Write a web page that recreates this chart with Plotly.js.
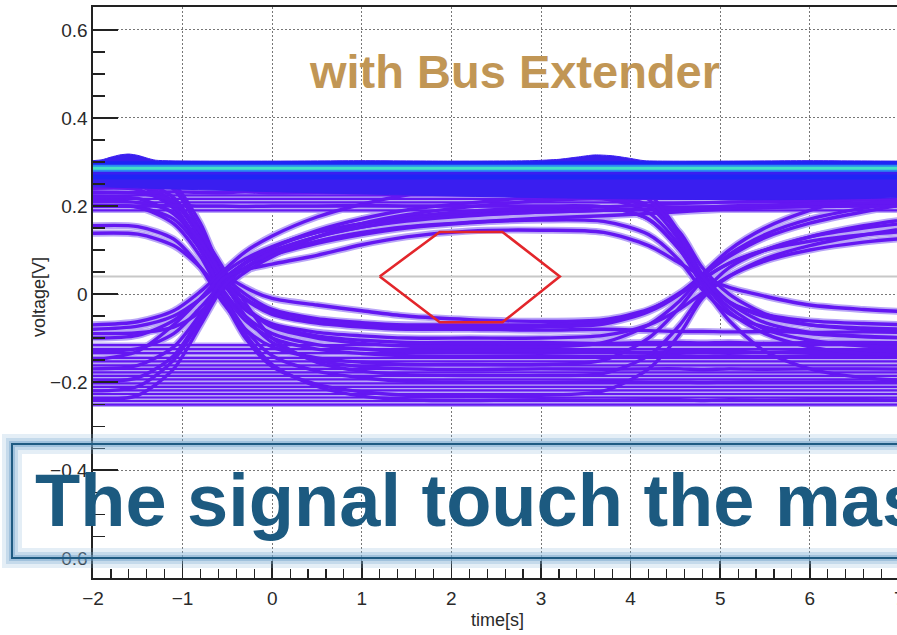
<!DOCTYPE html>
<html>
<head>
<meta charset="utf-8">
<script src="https://cdn.plot.ly/plotly-3.0.1.min.js"></script>
<style>
html, body { margin: 0; padding: 0; overflow: hidden; background: #fff; }
#chart { width: 1000px; height: 635px; }
</style>
</head>
<body>
<div id="chart"></div>
<script>
// ---------------- data ----------------
const tStart = -2, tEnd = 8;
const T = [-2, -1.5, -1.1, -0.8, -0.55, -0.3, 0, 0.5, 1, 1.5, 2.2, 3, 3.7, 4.2, 4.55, 4.8, 5.1, 5.5, 6, 6.6, 7.3, 8];

// traces falling at the first crossing
const fallA0 = [0.29, 0.288, 0.25, 0.16, 0.05, 0.015, -0.01, -0.025, -0.038, -0.05, -0.058, -0.062, -0.058, -0.035, 0.0, 0.035, 0.07, 0.1, 0.13, 0.155, 0.175, 0.19];
const fallA1 = [0.28, 0.277, 0.238, 0.147, 0.045, 0.0, -0.035, -0.056, -0.065, -0.07, -0.07, -0.07, -0.063, -0.037, 0.003, 0.042, 0.085, 0.128, 0.161, 0.187, 0.21, 0.224];
const fallA2 = [0.26, 0.257, 0.219, 0.131, 0.036, -0.012, -0.046, -0.066, -0.075, -0.08, -0.08, -0.082, -0.08, -0.083, -0.085, -0.085, -0.086, -0.085, -0.087, -0.086, -0.088, -0.087];
const fallA3 = [0.22, 0.217, 0.182, 0.11, 0.025, -0.036, -0.068, -0.087, -0.095, -0.1, -0.1, -0.1, -0.094, -0.07, -0.034, 0.002, 0.041, 0.08, 0.11, 0.134, 0.155, 0.167];
const fallA4 = [0.2, 0.198, 0.17, 0.1, 0.01, -0.05, -0.09, -0.115, -0.125, -0.13, -0.13, -0.128, -0.13, -0.132, -0.13, -0.131, -0.13, -0.132, -0.13, -0.13, -0.131, -0.13];
const fallA5 = [0.155, 0.153, 0.125, 0.06, -0.02, -0.08, -0.12, -0.145, -0.155, -0.16, -0.16, -0.16, -0.15, -0.1, -0.03, 0.03, 0.07, 0.1, 0.12, 0.135, 0.145, 0.15];
const fallA6 = [0.24, 0.237, 0.195, 0.1, 0.0, -0.08, -0.14, -0.175, -0.19, -0.198, -0.2, -0.2, -0.199, -0.2, -0.2, -0.201, -0.2, -0.2, -0.2, -0.2, -0.201, -0.2];
const fallA7 = [0.2, 0.197, 0.16, 0.085, -0.01, -0.1, -0.165, -0.205, -0.222, -0.23, -0.232, -0.23, -0.22, -0.17, -0.09, -0.01, 0.04, 0.075, 0.1, 0.118, 0.13, 0.137];
const fallA8 = [0.29, 0.287, 0.24, 0.14, 0.035, -0.05, -0.11, -0.15, -0.165, -0.17, -0.172, -0.17, -0.171, -0.17, -0.17, -0.172, -0.17, -0.171, -0.17, -0.17, -0.171, -0.17];
const fallA9 = [0.25, 0.247, 0.2, 0.1, 0.0, -0.09, -0.16, -0.21, -0.232, -0.24, -0.242, -0.24, -0.241, -0.24, -0.24, -0.242, -0.24, -0.241, -0.24, -0.24, -0.241, -0.24];
const fallA10 = [0.25, 0.248, 0.21, 0.125, 0.035, -0.01, -0.04, -0.06, -0.07, -0.075, -0.075, -0.075, -0.068, -0.04, 0.0, 0.045, 0.1, 0.15, 0.19, 0.22, 0.245, 0.26];
const fallA11 = [0.138, 0.136, 0.11, 0.06, 0.0, -0.06, -0.1, -0.125, -0.135, -0.14, -0.141, -0.14, -0.142, -0.14, -0.14, -0.141, -0.14, -0.142, -0.14, -0.14, -0.141, -0.14];
const fallA12 = [0.27, 0.26, 0.2, 0.11, 0.03, -0.03, -0.07, -0.095, -0.105, -0.11, -0.11, -0.11, -0.112, -0.11, -0.11, -0.111, -0.11, -0.112, -0.11, -0.11, -0.111, -0.11];
const fallA13 = [0.23, 0.229, 0.21, 0.14, 0.06, -0.02, -0.1, -0.155, -0.175, -0.183, -0.185, -0.185, -0.18, -0.14, -0.07, 0.0, 0.06, 0.1, 0.13, 0.15, 0.165, 0.175];
const fallA14 = [0.21, 0.208, 0.185, 0.12, 0.04, -0.03, -0.075, -0.1, -0.112, -0.118, -0.12, -0.12, -0.11, -0.07, -0.015, 0.04, 0.09, 0.135, 0.17, 0.195, 0.215, 0.225];

// traces rising at the first crossing
const riseA1 = [-0.07, -0.063, -0.038, 0.006, 0.052, 0.096, 0.132, 0.175, 0.204, 0.225, 0.243, 0.258, 0.265, 0.27, 0.274, 0.276, 0.277, 0.279, 0.281, 0.283, 0.285, 0.286];
const riseA2 = [-0.08, -0.073, -0.05, -0.011, 0.032, 0.072, 0.105, 0.144, 0.171, 0.191, 0.207, 0.22, 0.217, 0.185, 0.11, 0.035, -0.018, -0.047, -0.061, -0.067, -0.07, -0.07];
const riseA3 = [-0.1, -0.094, -0.06, -0.01, 0.035, 0.07, 0.098, 0.13, 0.152, 0.168, 0.182, 0.193, 0.198, 0.202, 0.206, 0.207, 0.209, 0.21, 0.212, 0.214, 0.215, 0.217];
const riseA4 = [-0.13, -0.124, -0.09, -0.03, 0.025, 0.06, 0.088, 0.115, 0.135, 0.15, 0.162, 0.168, 0.165, 0.135, 0.075, 0.01, -0.045, -0.075, -0.09, -0.097, -0.1, -0.1];
const riseA5 = [-0.17, -0.162, -0.12, -0.045, 0.025, 0.06, 0.09, 0.12, 0.14, 0.153, 0.163, 0.172, 0.178, 0.183, 0.187, 0.19, 0.193, 0.196, 0.2, 0.203, 0.206, 0.208];
const riseA6 = [-0.22, -0.21, -0.15, -0.06, 0.02, 0.07, 0.105, 0.14, 0.16, 0.175, 0.188, 0.196, 0.198, 0.17, 0.1, 0.03, -0.03, -0.08, -0.105, -0.118, -0.123, -0.125];
const riseA7 = [-0.15, -0.13, -0.07, -0.01, 0.045, 0.08, 0.108, 0.14, 0.16, 0.172, 0.18, 0.186, 0.19, 0.192, 0.193, 0.194, 0.195, 0.197, 0.198, 0.2, 0.201, 0.202];
const riseA8 = [-0.09, -0.088, -0.075, -0.04, 0.01, 0.05, 0.085, 0.13, 0.16, 0.18, 0.198, 0.212, 0.216, 0.2, 0.14, 0.06, 0.0, -0.045, -0.07, -0.08, -0.085, -0.085];
const riseA9 = [-0.24, -0.23, -0.17, -0.07, 0.015, 0.06, 0.095, 0.13, 0.152, 0.166, 0.178, 0.186, 0.19, 0.193, 0.195, 0.197, 0.2, 0.202, 0.205, 0.207, 0.21, 0.212];
const riseInner = [-0.2, -0.19, -0.14, -0.05, 0.035, 0.055, 0.068, 0.088, 0.112, 0.13, 0.143, 0.145, 0.14, 0.11, 0.07, 0.04, 0.015, -0.005, -0.025, -0.035, -0.042, -0.045];

// traces falling at the second crossing
const fallB1 = [0.27, 0.272, 0.27, 0.271, 0.27, 0.27, 0.271, 0.27, 0.27, 0.271, 0.27, 0.27, 0.267, 0.228, 0.137, 0.045, -0.017, -0.052, -0.07, -0.077, -0.08, -0.08];
const fallB2 = [0.232, 0.23, 0.232, 0.231, 0.23, 0.232, 0.23, 0.231, 0.23, 0.232, 0.23, 0.231, 0.228, 0.2, 0.12, 0.03, -0.04, -0.09, -0.12, -0.135, -0.14, -0.14];
const fallB3 = [0.2, 0.2, 0.201, 0.2, 0.2, 0.199, 0.2, 0.2, 0.201, 0.2, 0.2, 0.2, 0.198, 0.17, 0.1, 0.02, -0.06, -0.13, -0.17, -0.19, -0.198, -0.2];
const fallB4 = [0.252, 0.25, 0.251, 0.25, 0.252, 0.25, 0.251, 0.25, 0.25, 0.252, 0.25, 0.251, 0.245, 0.215, 0.13, 0.04, -0.02, -0.065, -0.087, -0.096, -0.1, -0.1];

// steady levels
const lowLevels = [-0.116, -0.125, -0.134, -0.145, -0.153, -0.162, -0.17, -0.178, -0.186, -0.194, -0.203, -0.211, -0.219, -0.227, -0.235, -0.243, -0.251];
const highLevels = [0.19, 0.199, 0.208, 0.216, 0.224, 0.232, 0.24];

// dense top rail
const topBandT = [-2, -1.9, -1.8, -1.7, -1.6, -1.5, -1.4, -1.3, 0, 1, 2, 2.9, 3.2, 3.4, 3.6, 3.8, 4.0, 4.15, 5, 6, 7, 8];
const topBandV = [0.303, 0.305, 0.311, 0.316, 0.318, 0.315, 0.309, 0.304, 0.302, 0.303, 0.302, 0.303, 0.306, 0.311, 0.316, 0.314, 0.308, 0.303, 0.302, 0.303, 0.302, 0.303];
const bandBottomV = 0.244;
const cyanV = 0.286;
const blueLineV = [0.296, 0.266];

// mask
const maskT = [1.2, 1.87, 2.57, 3.21, 2.57, 1.87, 1.2];
const maskV = [0.04, 0.141, 0.141, 0.04, -0.064, -0.064, 0.04];
const maskCenterV = 0.04;

// ---------------- drawing ----------------
const HALO = '#b9a6f6';
const CORE = '#6417f2';

function line(x, y, color, width, shape) {
  return {
    type: 'scatter', mode: 'lines', x: x, y: y,
    line: { color: color, width: width, shape: shape || 'linear', smoothing: 0.8 },
    hoverinfo: 'skip', showlegend: false
  };
}

const transitions = [fallA0, fallA1, fallA2, fallA3, fallA4, fallA5, fallA6, fallA7, fallA8, fallA9, fallA10, fallA11,
  fallA12, fallA13, fallA14,
  riseA1, riseA2, riseA3, riseA4, riseA5, riseA6, riseA7, riseA8, riseA9, riseInner,
  fallB1, fallB2, fallB3, fallB4];
const steady = lowLevels.concat(highLevels);

const data = [];
data.push(line([tStart, tEnd], [maskCenterV, maskCenterV], '#c8c8c8', 2));

steady.forEach(v => data.push(line([tStart, tEnd], [v, v], HALO, 5)));
transitions.forEach(s => data.push(line(T, s, HALO, 7, 'spline')));
steady.forEach(v => data.push(line([tStart, tEnd], [v, v], CORE, 2.2)));
transitions.forEach(s => data.push(line(T, s, CORE, 3.4, 'spline')));

// top rail band
data.push({
  type: 'scatter', mode: 'lines',
  x: topBandT.concat([tEnd, tStart]),
  y: topBandV.concat([bandBottomV, bandBottomV]),
  fill: 'toself', fillcolor: '#3a1ef0',
  line: { color: '#3a1ef0', width: 1, shape: 'spline', smoothing: 0.6 },
  hoverinfo: 'skip', showlegend: false
});
blueLineV.forEach(v => data.push(line([tStart, tEnd], [v, v], '#1f24f6', 5)));
data.push(line([tStart, tEnd], [cyanV, cyanV], '#2a8cf0', 7));
data.push(line([tStart, tEnd], [cyanV, cyanV], '#44e2c6', 3));

// mask
data.push(line(maskT, maskV, '#e3262b', 2.6));

const FONT = 'Liberation Sans, Arial, Helvetica, sans-serif';

// paper coords for the box (plot area: x 93..989 px, y 7..578 px)
const boxX0 = (12 - 93) / 896, boxX1 = 1.3;
const boxY0 = (578 - 558) / 571, boxY1 = (578 - 444) / 571;

function rect(color, width) {
  return { type: 'rect', xref: 'paper', yref: 'paper', x0: boxX0, x1: boxX1, y0: boxY0, y1: boxY1,
    line: { color: color, width: width }, fillcolor: 'rgba(0,0,0,0)', layer: 'above' };
}

const layout = {
  width: 1000, height: 635,
  margin: { l: 93, r: 11, t: 7, b: 57, pad: 0 },
  paper_bgcolor: '#ffffff', plot_bgcolor: '#ffffff',
  font: { family: FONT, color: '#333' },
  showlegend: false,
  xaxis: {
    range: [tStart, tEnd], tick0: 0, dtick: 1,
    ticks: 'inside', ticklen: 17, tickwidth: 1.5, tickcolor: '#222',
    showline: true, linecolor: '#222', linewidth: 1.6, mirror: true,
    showgrid: true, gridcolor: '#777', griddash: '2px,2px', gridwidth: 1,
    zeroline: false, tickfont: { size: 19, color: '#2a2a2a', family: FONT },
    ticklabelstandoff: 3,
    minor: { dtick: 0.2, ticks: 'inside', ticklen: 9, tickcolor: '#222', tickwidth: 1.2, showgrid: false },
    fixedrange: true
  },
  yaxis: {
    range: [-0.645, 0.652], tick0: 0, dtick: 0.2,
    ticks: 'inside', ticklen: 25, tickwidth: 1.5, tickcolor: '#222',
    showline: true, linecolor: '#222', linewidth: 1.6, mirror: true,
    showgrid: true, gridcolor: '#777', griddash: '2px,2px', gridwidth: 1,
    zeroline: false, tickfont: { size: 19, color: '#2a2a2a', family: FONT },
    minor: { dtick: 0.05, ticks: 'inside', ticklen: 12, tickcolor: '#222', tickwidth: 1.2, showgrid: false },
    fixedrange: true
  },
  shapes: [
    rect('rgba(120,170,210,0.20)', 20),
    rect('rgba(120,170,210,0.28)', 12),
    rect('rgba(110,160,200,0.42)', 6),
    rect('#1f5b82', 2)
  ],
  annotations: [
    { text: '<b>with Bus Extender</b>', xref: 'paper', yref: 'paper',
      x: (514.5 - 93) / 896, y: (578 - 72) / 571, xanchor: 'center', yanchor: 'middle',
      showarrow: false, font: { family: FONT, size: 47, color: '#c19655' } },
    { text: '<b>The signal touch the mask</b>', xref: 'paper', yref: 'paper',
      x: (33 - 93) / 896, y: (578 - 501) / 571, xanchor: 'left', yanchor: 'middle',
      showarrow: false, font: { family: FONT, size: 74, color: '#1c5a80' } },
    { text: 'time[s]', xref: 'paper', yref: 'paper',
      x: (497 - 93) / 896, y: (578 - 620) / 571, xanchor: 'center', yanchor: 'middle',
      showarrow: false, font: { family: FONT, size: 18, color: '#2a2a2a' } },
    { text: 'voltage[V]', xref: 'paper', yref: 'paper', textangle: -90,
      x: (39 - 93) / 896, y: (578 - 297) / 571, xanchor: 'center', yanchor: 'middle',
      showarrow: false, font: { family: FONT, size: 18, color: '#2a2a2a' } }
  ]
};

Plotly.newPlot('chart', data, layout, { displayModeBar: false, staticPlot: true });
</script>
</body>
</html>
